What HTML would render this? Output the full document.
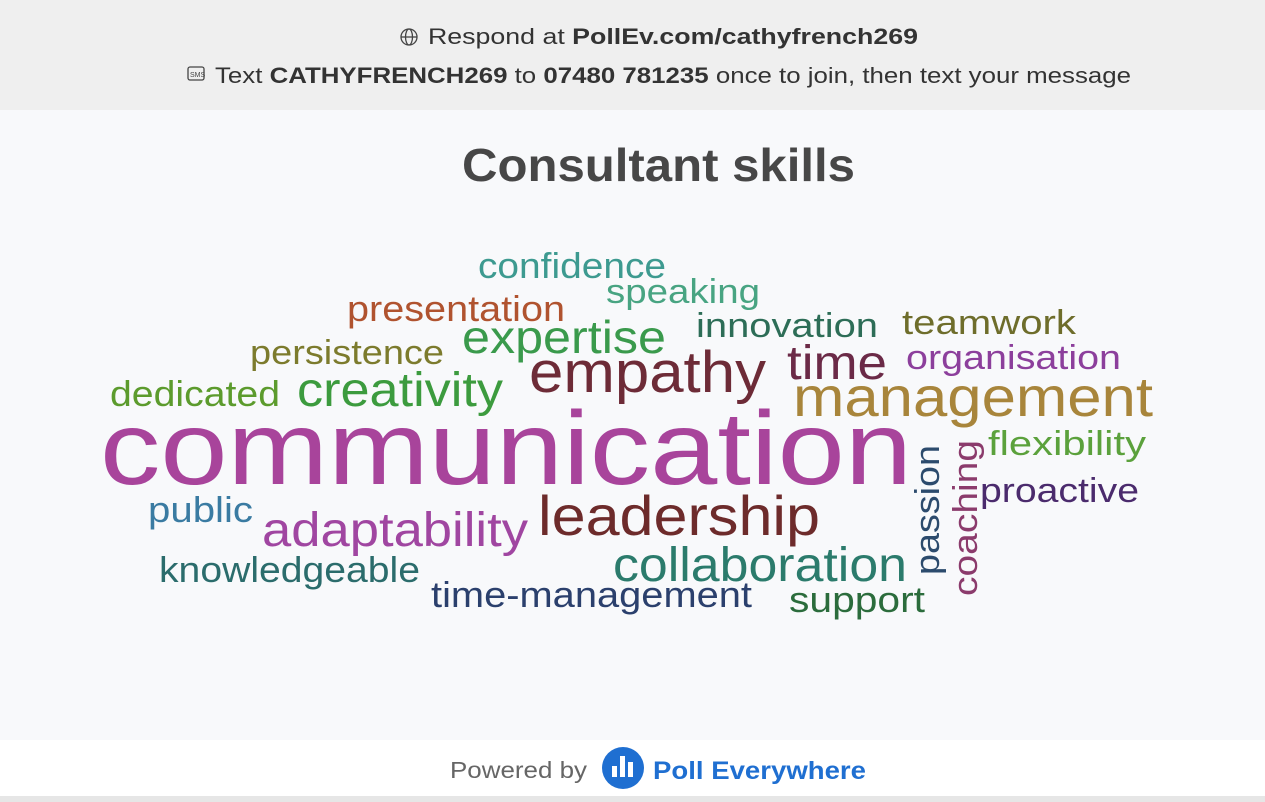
<!DOCTYPE html>
<html><head><meta charset="utf-8"><style>
html,body{margin:0;padding:0;width:1265px;height:802px;overflow:hidden;background:#f8f9fb}
svg{display:block}
text{font-family:"Liberation Sans",sans-serif}
</style></head><body>
<svg width="1265" height="802" viewBox="0 0 1265 802">
<rect x="0" y="0" width="1265" height="110" fill="#efefef"/>
<rect x="0" y="110" width="1265" height="630" fill="#f8f9fb"/>
<rect x="0" y="740" width="1265" height="56" fill="#ffffff"/>
<rect x="0" y="796" width="1265" height="6" fill="#e6e6e6"/>

<g fill="none" stroke="#444" stroke-width="1.3">
<circle cx="409" cy="37" r="8"/><ellipse cx="409" cy="37" rx="3.5" ry="8"/><line x1="401" y1="37" x2="417" y2="37"/></g>
<text x="428" y="44" font-size="22" fill="#333" textLength="490" lengthAdjust="spacingAndGlyphs">Respond at <tspan font-weight="bold">PollEv.com/cathyfrench269</tspan></text>
<g><rect x="188" y="67" width="16" height="13" rx="2" fill="none" stroke="#444" stroke-width="1.3"/><text x="190" y="77" font-size="7" fill="#444">SMS</text></g>
<text x="215" y="83" font-size="22" fill="#333" textLength="916" lengthAdjust="spacingAndGlyphs">Text <tspan font-weight="bold">CATHYFRENCH269</tspan> to <tspan font-weight="bold">07480 781235</tspan> once to join, then text your message</text>

<text x="462" y="181" font-size="46" font-weight="bold" fill="#474747" textLength="393" lengthAdjust="spacingAndGlyphs">Consultant skills</text>

<g id="cloud"></g>

<text x="450" y="778" font-size="23" fill="#666" textLength="137" lengthAdjust="spacingAndGlyphs">Powered by</text>
<g>
<circle cx="623" cy="768" r="21" fill="#1f6fd1"/>
<rect x="612" y="766" width="5" height="11" fill="#fff"/><rect x="620" y="756" width="5" height="21" fill="#fff"/><rect x="628" y="762" width="5" height="15" fill="#fff"/>
<text x="653" y="779" font-size="25" font-weight="bold" fill="#1f6fd1" textLength="213" lengthAdjust="spacingAndGlyphs">Poll Everywhere</text>
</g>
</svg>
<script>
const words=["confidence","speaking","presentation","innovation","teamwork","expertise","persistence","time","organisation","empathy","dedicated","creativity","management","communication","flexibility","passion","coaching","proactive","public","adaptability","leadership","knowledgeable","collaboration","time-management","support"];
// [x, baselineY, width, fontSize, color, rotated]
const layout=[
[478,278,188,36,"#3d9a90",0],
[606,303,154,34,"#48a482",0],
[347,321,218,36,"#b0532f",0],
[696,337,182,34,"#2d6d57",0],
[902,334,174,34,"#6e6d2b",0],
[462,353,204,46,"#3a9a4c",0],
[250,364,194,34,"#7c7b2d",0],
[787,379,100,48,"#6b2a47",0],
[906,369,215,34,"#8c3f9c",0],
[529,392,237,58,"#6d2b37",0],
[110,406,170,36,"#5c9b2d",0],
[297,406,206,48,"#3c9b3e",0],
[793,416,360,56,"#a8853b",0],
[100,484,812,104,"#a8449b",0],
[988,455,158,34,"#5ba13c",0],
[575,939,130,34,"#2c4b6d",1],
[596,977,156,34,"#8b3b6c",1],
[980,502,159,34,"#4b2b6d",0],
[148,522,105,36,"#3a7ba2",0],
[262,546,266,48,"#a046a1",0],
[538,535,282,56,"#6d2b2b",0],
[159,582,261,36,"#2b6c6c",0],
[613,581,294,48,"#2b7b6c",0],
[431,607,321,36,"#2b406d",0],
[789,612,136,36,"#2b6c3c",0]
];
const g=document.getElementById('cloud');
const NS="http://www.w3.org/2000/svg";
words.forEach((w,i)=>{
const L=layout[i];
const t=document.createElementNS(NS,'text');
t.textContent=w;


t.setAttribute('font-size',L[3]);
t.setAttribute('fill',L[4]);
t.setAttribute('textLength',L[2]);
t.setAttribute('lengthAdjust','spacingAndGlyphs');
if(L[5]){t.setAttribute('x',0);t.setAttribute('y',0);t.setAttribute('transform','translate('+L[1]+','+L[0]+') rotate(-90)');}
else{t.setAttribute('x',L[0]);t.setAttribute('y',L[1]);}
g.appendChild(t);
});
</script>
</body></html>
